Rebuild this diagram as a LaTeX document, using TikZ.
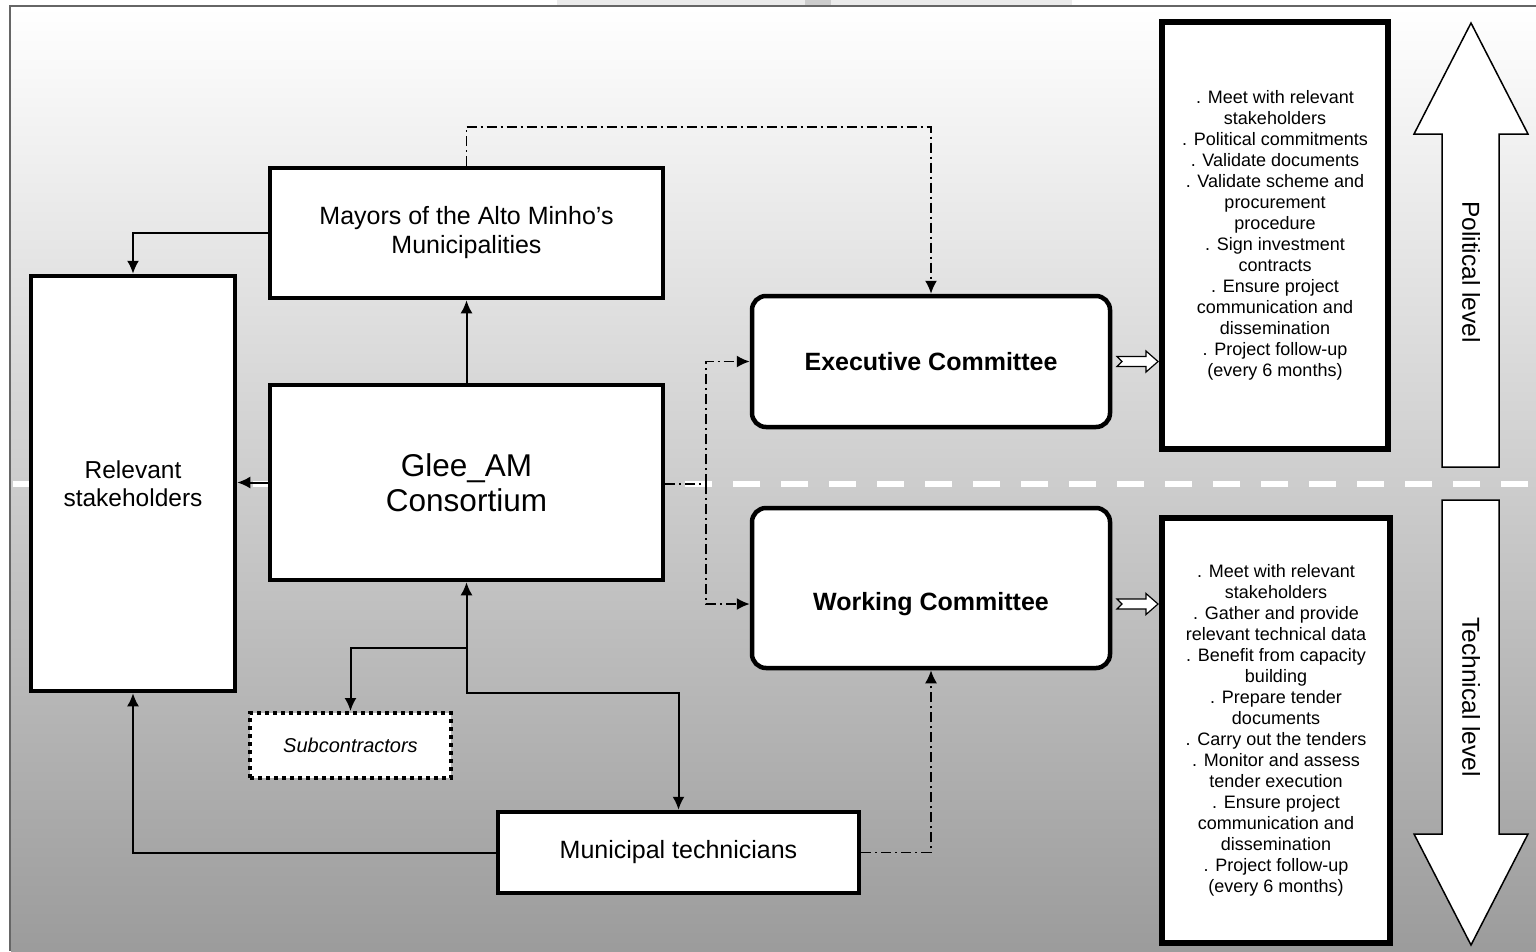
\documentclass[tikz,border=0pt]{standalone}
\usepackage{fontspec}
\setmainfont{Liberation Sans}
\usetikzlibrary{arrows.meta}
\tikzset{
  box/.style={draw, line width=4.5pt, fill=white, rectangle, align=center, inner sep=0pt},
  rbox/.style={box, rounded corners=14pt},
  listbox/.style={box, line width=5.5pt},
  subbox/.style={draw, line width=4pt, fill=white, dash pattern=on 4pt off 4pt, align=center, inner sep=0pt},
  tip/.tip={Latex[length=13pt,width=12pt]},
  conn/.style={line width=2pt, -tip},
  dd/.style={line width=1.8pt, dash pattern=on 10pt off 4pt on 2pt off 4pt},
  dda/.style={dd, -tip},
  bigarrow/.style={draw, line width=1.5pt, fill=white, line join=miter},
  smallarrow/.style={draw, line width=1.2pt, fill=white},
  fs25/.style={font=\fontsize{25}{29}\selectfont},
  fs18/.style={font=\fontsize{18}{21}\selectfont}
}
\begin{document}
\begin{tikzpicture}[x=1pt, y=-1pt]
\useasboundingbox (0,0) rectangle (1536,951);
% artifact at top
\fill[black!8] (557,0) rectangle (1072,6);
\fill[black!20] (805,0) rectangle (831,6);
% background
\shade[top color=white, middle color=black!16, bottom color=black!39] (11,7) rectangle (1536,951);
\draw[black!60, line width=2pt] (10,951) -- (10,6) -- (1536,6);
% white dashed separator
\draw[white, line width=6pt, dash pattern=on 27pt off 21pt, dash phase=35pt] (0,484) -- (1536,484);

% nodes
\node[box, fs25, minimum width=393pt, minimum height=130pt] (mayors) at (466.5,233) {Mayors of the Alto Minho’s\\Municipalities};
\node[box, font=\fontsize{24.5}{28}\selectfont, minimum width=204pt, minimum height=415pt] (stake) at (133,483.5) {Relevant\\stakeholders};
\node[box, font=\fontsize{31.5}{35}\selectfont, minimum width=393pt, minimum height=195pt] (glee) at (466.5,482.5) {Glee\_AM\\Consortium};
\node[rbox, font=\bfseries\fontsize{25}{29}\selectfont, minimum width=358pt, minimum height=131pt] (exec) at (931,361.5) {Executive Committee};
\node[rbox, minimum width=358pt, minimum height=160pt] (work) at (931,588) {};
\node[font=\bfseries\fontsize{25}{29}\selectfont] (worktext) at (931,604) {Working Committee};
\node[subbox, font=\itshape\fontsize{20}{24}\selectfont, minimum width=201pt, minimum height=65pt] (sub) at (350.5,745.5) {Subcontractors};
\node[box, fs25, minimum width=361pt, minimum height=81pt] (muni) at (678.5,852.5) {Municipal technicians};

\node[listbox, fs18, minimum width=226pt, minimum height=427pt] (pol) at (1275,235.5) {. Meet with relevant\\stakeholders\\. Political commitments\\. Validate documents\\. Validate scheme and\\procurement\\procedure\\. Sign investment\\contracts\\. Ensure project\\communication and\\dissemination\\. Project follow-up\\(every 6 months)};
\node[listbox, fs18, minimum width=228pt, minimum height=425pt] (tec) at (1276,730.5) {. Meet with relevant\\stakeholders\\. Gather and provide\\relevant technical data\\. Benefit from capacity\\building\\. Prepare tender\\documents\\. Carry out the tenders\\. Monitor and assess\\tender execution\\. Ensure project\\communication and\\dissemination\\. Project follow-up\\(every 6 months)};

% big level arrows
\draw[bigarrow] (1442,467) -- (1442,134) -- (1414,134) -- (1471,23) -- (1528,134) -- (1499,134) -- (1499,467) -- cycle;
\draw[bigarrow] (1442,500) -- (1442,834) -- (1414,834) -- (1471,945) -- (1528,834) -- (1499,834) -- (1499,500) -- cycle;
\node[rotate=-90, font=\fontsize{24.5}{28}\selectfont] (poltext) at (1471,272) {Political level};
\node[rotate=-90, font=\fontsize{24.5}{28}\selectfont] (tectext) at (1471,697) {Technical level};

% small hollow arrows
\draw[smallarrow] (1117,356.5) -- (1146,356.5) -- (1146,351) -- (1158,361.5) -- (1146,372) -- (1146,366.5) -- (1117,366.5) -- (1122,361.5) -- cycle;
\draw[smallarrow] (1117,599) -- (1146,599) -- (1146,593.5) -- (1158,604) -- (1146,614.5) -- (1146,609) -- (1117,609) -- (1122,604) -- cycle;

% connectors
\coordinate (split) at (706,484);
\coordinate (j1) at (466.5,648);
\coordinate (j2) at (466.5,693);
\coordinate (top) at (466.5,127);

\draw[conn] (mayors.west) -| (stake.north);
\draw[conn] (glee.north) -- (mayors.south);
\draw[conn] (glee.west) -- (glee.west -| stake.east);
\draw[dd] (glee.east |- split) -- (split);
\draw[dda] (split) |- (exec.west);
\draw[dda] (split) |- (work.west |- worktext);
\draw[dd] (mayors.north) -- (top);
\draw[dda] (top) -| (exec.north);
\draw[line width=2pt, tip-tip] (glee.south) -- (j2) -| (muni.north);
\draw[conn] (j1) -| (sub.north);
\draw[conn] (muni.west) -| (stake.south);
\draw[dda] (muni.east) -| (work.south);
\end{tikzpicture}
\end{document}
